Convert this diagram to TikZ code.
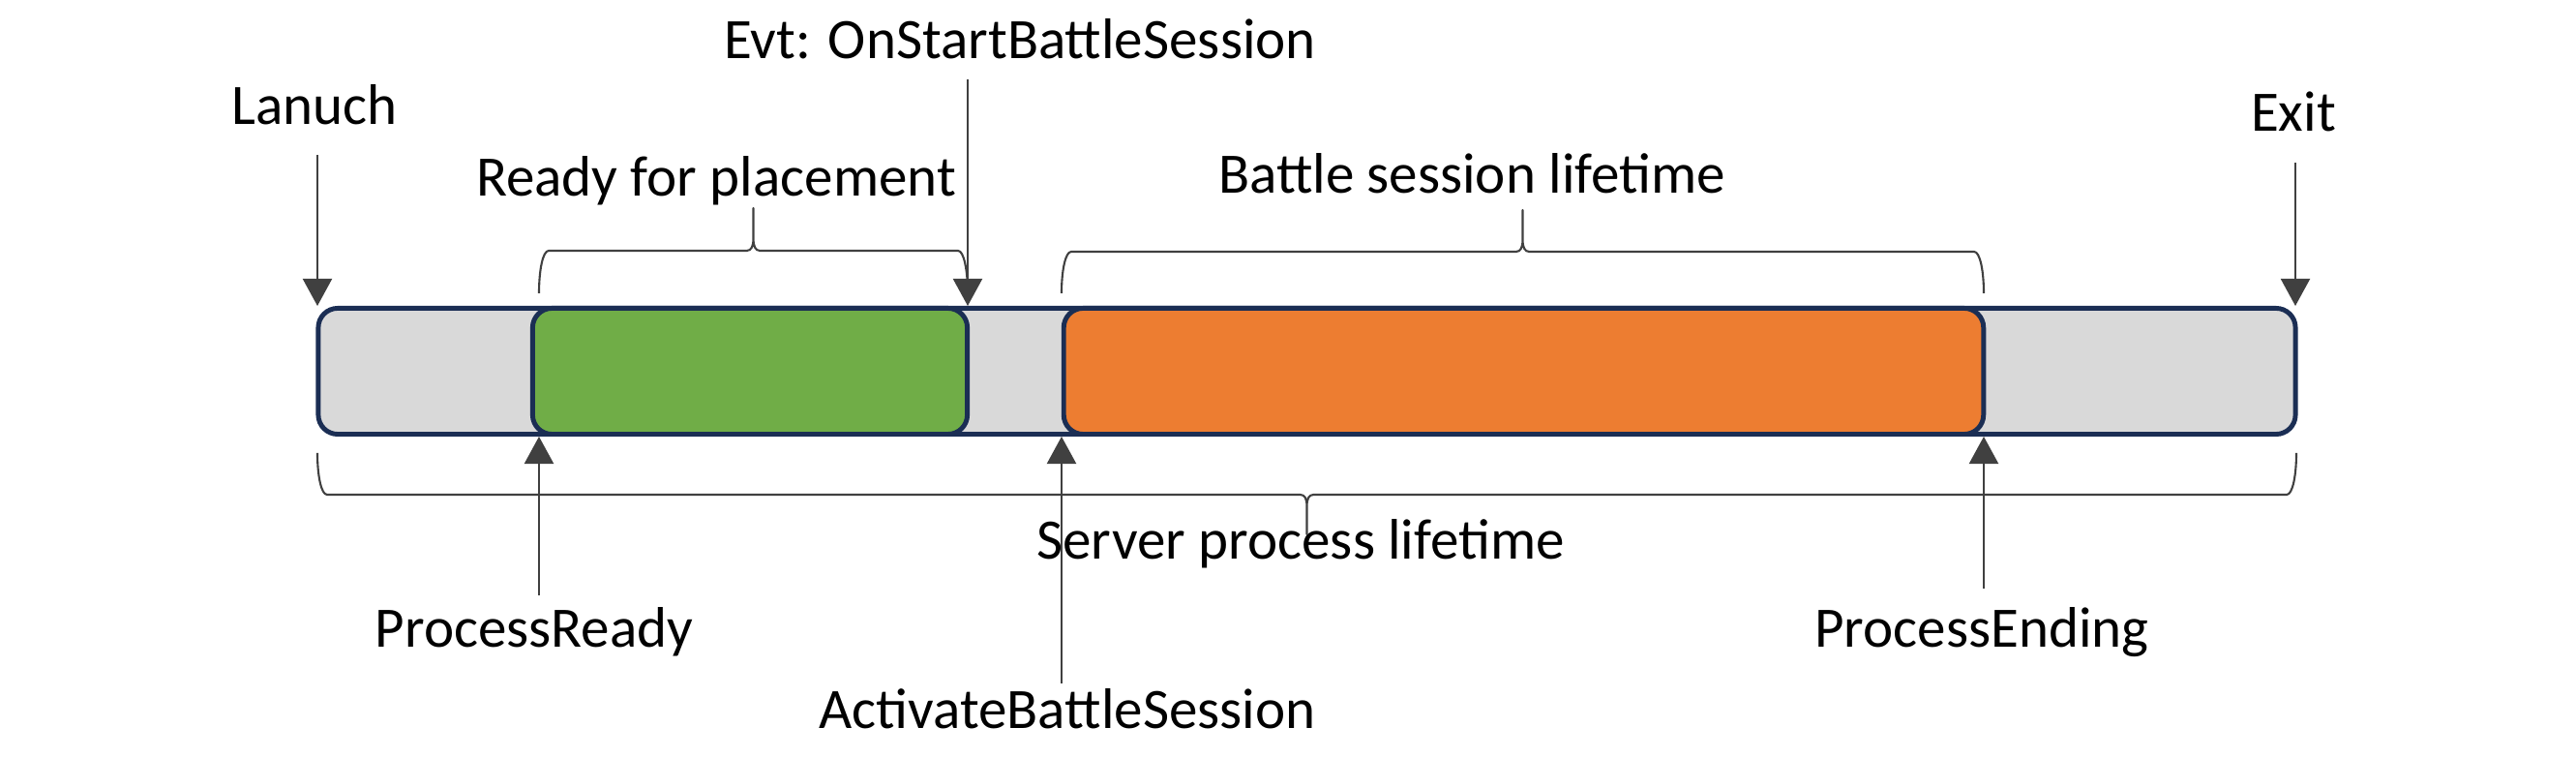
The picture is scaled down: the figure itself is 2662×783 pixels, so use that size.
\documentclass[tikz,border=0pt]{standalone}
\usepackage{fontspec}
\setmainfont{Carlito}
\usetikzlibrary{positioning,arrows.meta}

\definecolor{idlegray}{HTML}{D9D9D9}
\definecolor{readygreen}{HTML}{70AD47}
\definecolor{battleorange}{HTML}{ED7D31}
\definecolor{barline}{HTML}{1B2E54}
\definecolor{markgray}{HTML}{404040}

% curly span: left x, right x, end y, bar y, tip y
\newcommand{\spanbrace}[5]{%
  \draw[brc] (#1,#3) .. controls (#1,{#3+0.55*(#4-#3)}) and (#1+4,#4) .. (#1+10,#4)
    -- ({(#1+#2)/2-7},#4) .. controls ({(#1+#2)/2-2},#4) and ({(#1+#2)/2},{#4+0.1*(#5-#4)}) .. ({(#1+#2)/2},{#4+0.3*(#5-#4)})
    -- ({(#1+#2)/2},#5) -- ({(#1+#2)/2},{#4+0.3*(#5-#4)})
    .. controls ({(#1+#2)/2},{#4+0.1*(#5-#4)}) and ({(#1+#2)/2+2},#4) .. ({(#1+#2)/2+7},#4)
    -- (#2-10,#4) .. controls (#2-4,#4) and (#2,{#3+0.55*(#4-#3)}) .. (#2,#3);}

\begin{document}
\begin{tikzpicture}[x=0.01cm, y=-0.01cm]
       \tikzset{phase/.style = {rectangle, draw=barline, line width=1.4pt, rounded corners=0.2cm, minimum height=1.30cm, inner sep=0pt}, }
       \tikzset{lbl/.style = {anchor=base, inner sep=0pt, font=\fontsize{16.8}{20}\selectfont}, }
       \tikzset{sigarrow/.style = {draw=markgray, line width=0.6pt, -{Triangle[width=0.30cm, length=0.28cm]}}, }
       \tikzset{brc/.style = {draw=markgray, line width=0.6pt, line join=round}, }
       \useasboundingbox (0,0) rectangle (2662,783);

       % the bar
       \node[phase, fill=idlegray, minimum width=20.42cm] (server) at (1350.5,383.5) {};
       \node[phase, fill=readygreen, minimum width=4.49cm] (placement) at (775,383.5) {};
       \node[phase, fill=battleorange, minimum width=9.50cm] (session) at (1574.5,383.5) {};

       % labels
       \node[lbl] (launch) at (325,129) {Lanuch};
       \node[lbl] (evt) at (1054,61) {Evt: OnStartBattleSession};
       \node[lbl] (readylbl) at (740,203) {Ready for placement};
       \node[lbl] (battlelbl) at (1521,200) {Battle session lifetime};
       \node[lbl] (exit) at (2370,136) {Exit};
       \node[lbl] (serverlbl) at (1344,578) {Server process lifetime};
       \node[lbl] (ready) at (552,669) {ProcessReady};
       \node[lbl] (activate) at (1103,753) {ActivateBattleSession};
       \node[lbl] (ending) at (2048,669) {ProcessEnding};

       \coordinate (launchtail) at (328,160);
       \coordinate (evttail) at (1000,82);
       \coordinate (exittail) at (2372,168);
       \coordinate (readytail) at (557,615);
       \coordinate (activatetail) at (1097,706);
       \coordinate (endingtail) at (2050,608);

       \path
       (launchtail) edge[sigarrow] (launchtail |- server.north)
       (evttail) edge[sigarrow] (evttail |- server.north)
       (exittail) edge[sigarrow] (exittail |- server.north)
       (readytail) edge[sigarrow] (readytail |- server.south)
       (activatetail) edge[sigarrow] (activatetail |- server.south)
       (endingtail) edge[sigarrow] (endingtail |- server.south);

       \spanbrace{557}{1000}{303}{259}{215}
       \spanbrace{1097}{2050}{303}{260}{217}
       \spanbrace{328}{2373}{468}{511}{552}
\end{tikzpicture}
\end{document}
